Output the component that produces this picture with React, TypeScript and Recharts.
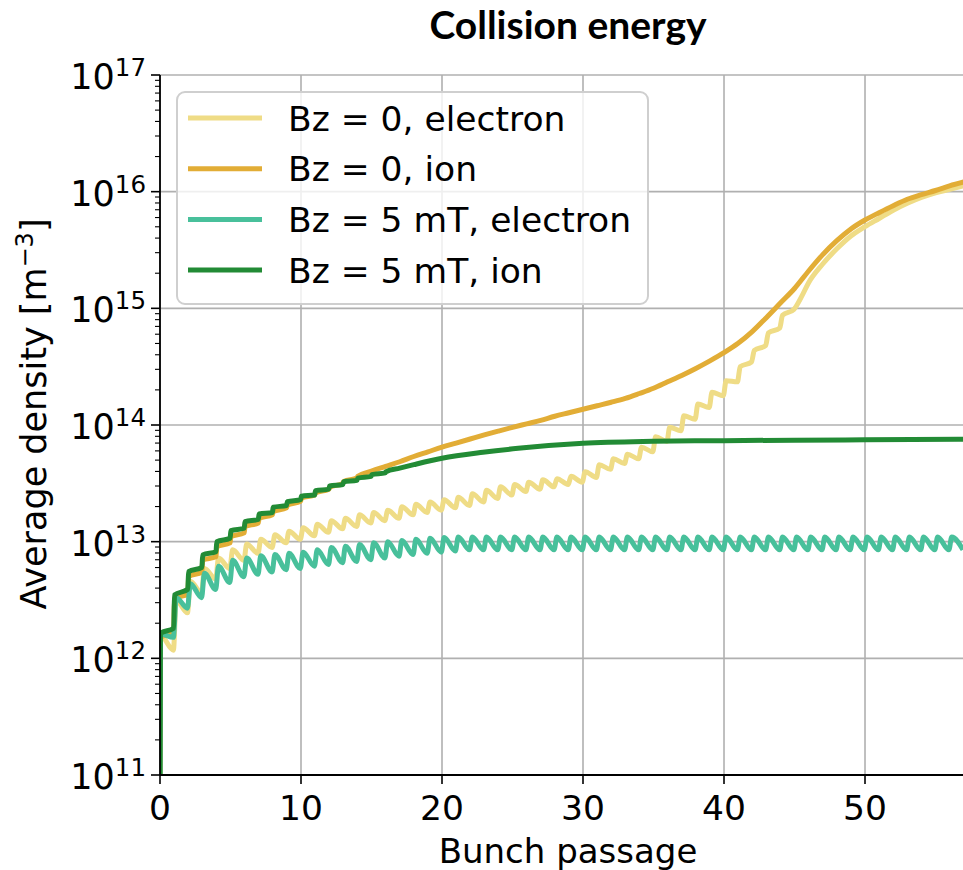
import React from 'react'
import { LineChart, Line, XAxis, YAxis, CartesianGrid, Legend } from 'recharts'

const FONT = '"DejaVu Sans", sans-serif'
const PLOT_LEFT = 160
const PLOT_BOTTOM = 775

// axis ticks
const xTicks = [0, 10, 20, 30, 40, 50]
const yMajorTicks = [1e11, 1e12, 1e13, 1e14, 1e15, 1e16, 1e17]
const yMinorSteps = [2, 3, 4, 5, 6, 7, 8, 9]

// every density value below is log10 of the average density in m^-3

// Bz = 0, ion: level right after passage 0, then just before / just after each early passage
const bz0IonStart = 12.18
const bz0IonPassages = [1, 2, 3, 4, 5, 6, 7, 8, 9, 10, 11, 12, 13, 14]
const bz0IonBefore = [12.22, 12.55, 12.74, 12.87, 12.99, 13.075, 13.16, 13.23, 13.29, 13.345, 13.4, 13.45, 13.5, 13.545]
const bz0IonAfter = [12.515, 12.7, 12.843, 12.957, 13.043, 13.129, 13.2, 13.257, 13.314, 13.372, 13.42, 13.465, 13.515, 13.56]
const bz0IonTailX = [
  15, 16, 17, 18, 19, 20, 21, 22, 23, 24, 25, 26, 27, 28, 29, 30, 31, 32, 33, 34, 35, 36,
  37, 38, 39, 40, 41, 42, 43, 44, 45, 46, 47, 48, 49, 50, 51, 52, 53, 54, 55, 56, 57,
]
const bz0IonTail = [
  13.605, 13.645, 13.685, 13.73, 13.77, 13.81, 13.845, 13.88, 13.915, 13.948, 13.98, 14.01, 14.04, 14.075, 14.105, 14.135,
  14.165, 14.195, 14.228, 14.27, 14.315, 14.37, 14.425, 14.485, 14.55, 14.62, 14.7, 14.8, 14.92, 15.045, 15.17, 15.32,
  15.46, 15.58, 15.68, 15.757, 15.82, 15.88, 15.935, 15.975, 16.01, 16.05, 16.083,
]

// Bz = 5 mT, ion
const bz5IonStart = 12.215
const bz5IonPassages = [1, 2, 3, 4, 5, 6, 7, 8, 9, 10, 11, 12, 13, 14, 15, 16]
const bz5IonBefore = [12.258, 12.592, 12.78, 12.914, 13.03, 13.115, 13.19, 13.25, 13.31, 13.36, 13.4, 13.45, 13.49, 13.525, 13.56, 13.59]
const bz5IonAfter = [12.543, 12.743, 12.886, 13.0, 13.094, 13.171, 13.237, 13.295, 13.343, 13.39, 13.437, 13.477, 13.514, 13.545, 13.575, 13.6]
const bz5IonTailX = [17, 18, 20, 22.9, 25.4, 30, 35, 40, 45, 50, 57]
const bz5IonTail = [13.63, 13.66, 13.715, 13.766, 13.8, 13.843, 13.86, 13.866, 13.87, 13.873, 13.877]

// Bz = 0, electron: value just after passage n, and just before passage n+1 (n = 0..44)
const bz0ElecPeak = [
  12.2, 12.5, 12.66, 12.77, 12.86, 12.93, 12.98, 13.02, 13.06, 13.09,
  13.12, 13.15, 13.18, 13.2, 13.23, 13.25, 13.27, 13.3, 13.32, 13.34,
  13.36, 13.38, 13.41, 13.44, 13.47, 13.49, 13.51, 13.53, 13.54, 13.56,
  13.6, 13.66, 13.71, 13.75, 13.81, 13.9, 13.98, 14.08, 14.18, 14.28,
  14.38, 14.5, 14.64, 14.79, 14.94,
]
const bz0ElecTrough = [
  12.07, 12.39, 12.56, 12.68, 12.77, 12.84, 12.9, 12.95, 12.99, 13.02,
  13.05, 13.08, 13.11, 13.13, 13.16, 13.18, 13.2, 13.23, 13.25, 13.27,
  13.29, 13.31, 13.34, 13.37, 13.4, 13.43, 13.45, 13.47, 13.49, 13.51,
  13.55, 13.62, 13.67, 13.71, 13.77, 13.86, 13.95, 14.05, 14.15, 14.25,
  14.37, 14.54, 14.68, 14.83, 14.99,
]
const bz0ElecTailX = [45.5, 46, 47, 48, 49, 50, 51, 52, 53, 54, 55, 56, 57]
const bz0ElecTail = [15.1, 15.22, 15.38, 15.51, 15.62, 15.7, 15.77, 15.84, 15.9, 15.95, 15.99, 16.02, 16.05]

// Bz = 5 mT, electron (n = 0..56)
const bz5ElecPeak = [
  12.21, 12.52, 12.64, 12.73, 12.79, 12.84, 12.86, 12.88, 12.89, 12.9,
  12.91, 12.93, 12.95, 12.96, 12.975, 12.99, 13.0, 13.01, 13.02, 13.03,
  13.035, 13.04, 13.04, 13.04, 13.04, 13.04, 13.04, 13.04, 13.04, 13.04,
  13.04, 13.04, 13.04, 13.04, 13.04, 13.04, 13.04, 13.04, 13.04, 13.04,
  13.04, 13.04, 13.04, 13.04, 13.04, 13.04, 13.04, 13.04, 13.04, 13.04,
  13.04, 13.04, 13.04, 13.04, 13.04, 13.04, 13.04,
]
const bz5ElecTrough = [
  12.18, 12.43, 12.52, 12.59, 12.65, 12.7, 12.72, 12.74, 12.76, 12.77,
  12.79, 12.805, 12.82, 12.83, 12.845, 12.86, 12.875, 12.89, 12.9, 12.91,
  12.92, 12.93, 12.93, 12.93, 12.93, 12.93, 12.93, 12.93, 12.93, 12.93,
  12.93, 12.93, 12.93, 12.93, 12.93, 12.93, 12.93, 12.93, 12.93, 12.93,
  12.93, 12.93, 12.93, 12.93, 12.93, 12.93, 12.93, 12.93, 12.93, 12.93,
  12.93, 12.93, 12.93, 12.93, 12.93, 12.93, 12.93,
]

type Pt = { x: number; y: number }
const pt = (x: number, lg: number): Pt => ({ x, y: Math.pow(10, lg) })

function stepped(start: number, passages: number[], before: number[], after: number[], tailX: number[], tail: number[]) {
  const pts: Pt[] = [pt(0, 11), pt(0.03, start)]
  passages.forEach((n, i) => {
    pts.push(pt(n - 0.03, before[i]))
    pts.push(pt(n + 0.03, after[i]))
  })
  tailX.forEach((x, i) => pts.push(pt(x, tail[i])))
  return pts
}

function wavy(peaks: number[], troughs: number[], tailX: number[] = [], tail: number[] = []) {
  const pts: Pt[] = [pt(0, 11)]
  peaks.forEach((p, n) => {
    pts.push(pt(n === 0 ? 0.03 : n + 0.15, p))
    pts.push(pt(n + 0.95, troughs[n]))
  })
  tailX.forEach((x, i) => pts.push(pt(x, tail[i])))
  return pts
}

const series = [
  { name: 'Bz = 0, electron', color: '#efdc86', data: wavy(bz0ElecPeak, bz0ElecTrough, bz0ElecTailX, bz0ElecTail) },
  { name: 'Bz = 0, ion', color: '#e2ad36', data: stepped(bz0IonStart, bz0IonPassages, bz0IonBefore, bz0IonAfter, bz0IonTailX, bz0IonTail) },
  { name: 'Bz = 5 mT, electron', color: '#48c09b', data: wavy(bz5ElecPeak, bz5ElecTrough) },
  { name: 'Bz = 5 mT, ion', color: '#228b35', data: stepped(bz5IonStart, bz5IonPassages, bz5IonBefore, bz5IonAfter, bz5IonTailX, bz5IonTail) },
]

const yTicks = [
  ...yMajorTicks,
  ...yMajorTicks.slice(0, -1).flatMap((d) => yMinorSteps.map((m) => m * d)),
].sort((a, b) => a - b)

const YTick = (props: any) => {
  const { y, payload } = props
  const lg = Math.log10(payload.value)
  const exp = Math.round(lg)
  const major = Math.abs(lg - exp) < 1e-6
  return (
    <g>
      <line x1={PLOT_LEFT - (major ? 9 : 5)} x2={PLOT_LEFT} y1={y} y2={y} stroke="#000" strokeWidth={major ? 1.6 : 1.1} />
      {major && (
        <text x={PLOT_LEFT - 14} y={y + 14} textAnchor="end" fontFamily={FONT} fontSize={35} fill="#000">
          10<tspan dy={-13} fontSize={24.5}>{exp}</tspan>
        </text>
      )}
    </g>
  )
}

const XTick = (props: any) => {
  const { x, payload } = props
  return (
    <text x={x} y={PLOT_BOTTOM + 45} textAnchor="middle" fontFamily={FONT} fontSize={34.5} fill="#000">
      {payload.value}
    </text>
  )
}

const LegendBox = () => (
  <svg width={474} height={215} style={{ display: 'block' }}>
    <rect x={1} y={1} width={471} height={212} rx={8} fill="#fff" fillOpacity={0.8} stroke="#cfcfcf" strokeWidth={2} />
    {series.map((s, i) => {
      const cy = 27 + i * 50.7
      return (
        <g key={s.name}>
          <line x1={12} x2={86} y1={cy} y2={cy} stroke={s.color} strokeWidth={5} />
          <text x={112} y={cy + 12.5} fontFamily={FONT} fontSize={34.5} fill="#000">{s.name}</text>
        </g>
      )
    })}
  </svg>
)

export default function App() {
  return (
    <div style={{ position: 'absolute', left: 0, top: 0, width: 963, height: 870, background: '#fff' }}>
      <LineChart width={963} height={870} margin={{ top: 75, right: 0, bottom: 0, left: 0 }}>
        <CartesianGrid stroke="#b0b0b0" strokeWidth={1.6} horizontalValues={yMajorTicks} verticalValues={xTicks} />
        <XAxis
          dataKey="x"
          type="number"
          domain={[0, 56.95]}
          allowDataOverflow
          ticks={xTicks}
          interval={0}
          height={95}
          axisLine={{ stroke: '#000', strokeWidth: 1.8 }}
          tickLine={{ stroke: '#000', strokeWidth: 1.6 }}
          tickSize={9}
          tick={<XTick />}
          label={() => (
            <text x={568} y={863} textAnchor="middle" fontFamily={FONT} fontSize={34} fill="#000">Bunch passage</text>
          )}
        />
        <YAxis
          dataKey="y"
          scale="log"
          domain={[1e11, 1e17]}
          allowDataOverflow
          ticks={yTicks}
          interval={0}
          width={160}
          axisLine={{ stroke: '#000', strokeWidth: 1.8 }}
          tickLine={false}
          tickSize={0}
          tickMargin={0}
          tick={<YTick />}
          label={() => (
            <text x={46} y={414} transform="rotate(-90 46 414)" textAnchor="middle" fontFamily={FONT} fontSize={35} fill="#000">
              Average density [m<tspan dy={-13} fontSize={24}>−3</tspan><tspan dy={13}>]</tspan>
            </text>
          )}
        />
        {series.map((s) => (
          <Line
            key={s.name}
            data={s.data}
            dataKey="y"
            name={s.name}
            type="monotone"
            stroke={s.color}
            strokeWidth={5}
            strokeLinejoin="round"
            dot={false}
            activeDot={false}
            isAnimationActive={false}
          />
        ))}
        <Legend
          layout="vertical"
          align="center"
          verticalAlign="middle"
          wrapperStyle={{ left: 176, top: 91, width: 474, height: 215 }}
          content={() => <LegendBox />}
        />
      </LineChart>
      <svg width={963} height={60} style={{ position: 'absolute', left: 0, top: 0, pointerEvents: 'none' }}>
        <text x={568} y={39} textAnchor="middle" fontFamily="Lato, 'Open Sans', sans-serif" fontWeight={700} fontSize={39} fill="#000">
          Collision energy
        </text>
      </svg>
    </div>
  )
}
